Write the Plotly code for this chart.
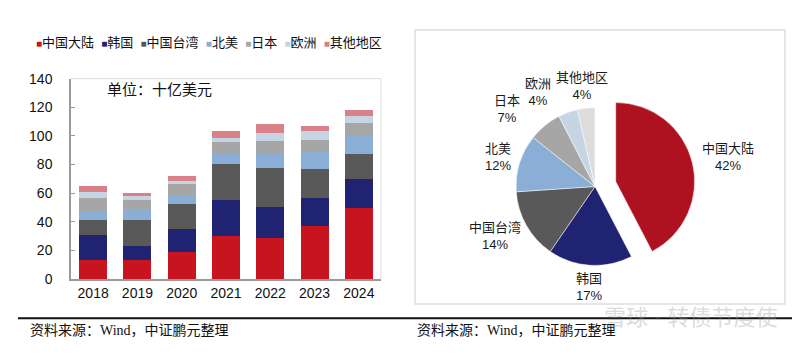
import math
import plotly.graph_objects as go

W, H = 800, 353

years = ["2018", "2019", "2020", "2021", "2022", "2023", "2024"]
regions = ["中国大陆", "韩国", "中国台湾", "北美", "日本", "欧洲", "其他地区"]

china = [13.4, 13.6, 18.9, 29.8, 28.7, 37.0, 49.9]
korea = [17.6, 9.8, 16.1, 25.2, 21.4, 19.8, 20.3]
taiwan = [10.0, 17.6, 17.3, 25.2, 27.2, 19.8, 16.9]
north_america = [6.0, 8.2, 6.7, 7.3, 10.0, 12.0, 13.8]
japan = [9.6, 6.3, 7.6, 8.0, 8.9, 8.3, 8.0]
europe = [4.0, 2.2, 2.2, 3.2, 6.0, 6.2, 4.7]
other = [4.4, 2.7, 2.9, 4.6, 6.3, 3.8, 4.2]

series = [china, korea, taiwan, north_america, japan, europe, other]

bar_colors = ["#C8141F", "#1F2372", "#595959", "#8AAED5", "#A6A6A6", "#C5D5E3", "#D98089"]
pie_colors = ["#AE1220", "#1F2372", "#595959", "#8AAED5", "#A6A6A6", "#C5D5E3", "#DCDCDC"]
pie_pull = [0.27, 0, 0, 0, 0, 0, 0]

pie_values = [s[-1] for s in series]

FONT = "Liberation Sans, Noto Sans CJK SC, sans-serif"


def px_x(x):
    return x / W


def px_y(y):
    return 1 - y / H


fig = go.Figure()

for name, vals, col in zip(regions, series, bar_colors):
    fig.add_trace(go.Bar(x=years, y=vals, name=name, marker_color=col,
                         marker_line_width=0, showlegend=False,
                         xaxis="x", yaxis="y"))

# pie geometry (pixels)
PCX, PCY, PBOX = 595, 187, 210
pie_r = PBOX / (2 + 2 * max(pie_pull))

fig.add_trace(go.Pie(
    labels=regions, values=pie_values, sort=False, direction="clockwise",
    rotation=0, pull=pie_pull,
    marker=dict(colors=pie_colors, line=dict(color="white", width=0.5)),
    textinfo="none",
    domain=dict(x=[px_x(PCX - PBOX / 2), px_x(PCX + PBOX / 2)],
                y=[px_y(PCY + PBOX / 2), px_y(PCY - PBOX / 2)]),
    showlegend=False, hoverinfo="label+percent",
))

# pie labels placed outside each slice, from the slice mid-angles
total = sum(pie_values)
cum = 0.0
labels_pos = []
for lab, v, pl in zip(regions, pie_values, pie_pull):
    frac = v / total
    mid = (cum + frac / 2) * 2 * math.pi
    cum += frac
    s, c = math.sin(mid), math.cos(mid)
    cx = PCX + pl * pie_r * s
    cy = PCY - pl * pie_r * c
    w = max(len(lab) * 13, 26)
    hblk = 34
    rr = pie_r + 6
    lx = cx + rr * s + s * w / 2
    ly = cy - rr * c - c * hblk / 2
    labels_pos.append([lab, frac, lx, ly, w, hblk, s])

# simple collision avoidance: walk back from the last slice, push left-side labels outward
placed = []
for item in reversed(labels_pos):
    lab, frac, lx, ly, w, hblk, s = item
    step = -1 if s < 0 else 1
    for _ in range(200):
        clash = False
        for (px, py, pw, ph) in placed:
            if abs(lx - px) < (w + pw) / 2 + 4 and abs(ly - py) < (hblk + ph) / 2 - 2:
                clash = True
                break
        if not clash:
            break
        lx += step
    item[2] = lx
    placed.append((lx, ly, w, hblk))

for lab, frac, lx, ly, w, hblk, s in labels_pos:
    fig.add_annotation(xref="paper", yref="paper", x=px_x(lx), y=px_y(ly),
                       xanchor="center", yanchor="middle", showarrow=False,
                       align="center",
                       text=f"{lab}<br>{round(frac * 100):.0f}%",
                       font=dict(size=13, color="#1a1a1a"))

fig.update_layout(
    width=W, height=H, margin=dict(l=0, r=0, t=0, b=0),
    paper_bgcolor="white", plot_bgcolor="white",
    barmode="stack", bargap=0.37,
    font=dict(family=FONT, size=14, color="#111"),
    xaxis=dict(domain=[px_x(71), px_x(381)], showline=True, linecolor="#9a9a9a",
               linewidth=1.5, ticks="", tickfont=dict(size=14), showgrid=False),
    yaxis=dict(domain=[px_y(284), px_y(74)], range=[0, 140], dtick=20,
               showline=True, linecolor="#9a9a9a", linewidth=1.5,
               ticks="inside", ticklen=4, tickcolor="#9a9a9a",
               showgrid=False, zeroline=False, tickfont=dict(size=14),
               ticklabelstandoff=14),
)

# plot-area light frame (top/right)
fig.add_shape(type="line", xref="paper", yref="paper",
              x0=px_x(71), x1=px_x(381), y0=px_y(74), y1=px_y(74),
              line=dict(color="#dddddd", width=1))
fig.add_shape(type="line", xref="paper", yref="paper",
              x0=px_x(381), x1=px_x(381), y0=px_y(74), y1=px_y(284),
              line=dict(color="#dddddd", width=1))

# right panel frame
fig.add_shape(type="rect", xref="paper", yref="paper",
              x0=px_x(415), x1=px_x(785), y0=px_y(310), y1=px_y(23),
              line=dict(color="#dedede", width=1.5))

# footer rule
fig.add_shape(type="line", xref="paper", yref="paper",
              x0=px_x(18), x1=px_x(792), y0=px_y(325), y1=px_y(325),
              line=dict(color="#111", width=2))

# custom legend
legend_html = "&nbsp;&nbsp;".join(
    f"<span style='color:{c};font-size:10px'>■</span>{n}" for n, c in zip(regions, bar_colors)
)
fig.add_annotation(xref="paper", yref="paper", x=px_x(34), y=px_y(36),
                   xanchor="left", yanchor="middle", showarrow=False,
                   text=legend_html, font=dict(size=13, color="#111"))

fig.add_annotation(xref="paper", yref="paper", x=px_x(105), y=px_y(85),
                   xanchor="left", yanchor="middle", showarrow=False,
                   text="单位：十亿美元", font=dict(size=15, color="#111"))

SERIF = "Liberation Serif, Noto Sans CJK SC, serif"
for x0 in (28, 415):
    fig.add_annotation(xref="paper", yref="paper", x=px_x(x0), y=px_y(338),
                       xanchor="left", yanchor="middle", showarrow=False,
                       text="资料来源：Wind，中证鹏元整理",
                       font=dict(family=SERIF, size=14, color="#111"))

# watermark
fig.add_annotation(xref="paper", yref="paper", x=px_x(780), y=px_y(324),
                   xanchor="right", yanchor="middle", showarrow=False,
                   text="雪球 · 转债节度使", opacity=0.35,
                   font=dict(size=22, color="#999"))

fig.write_html("out.html")
